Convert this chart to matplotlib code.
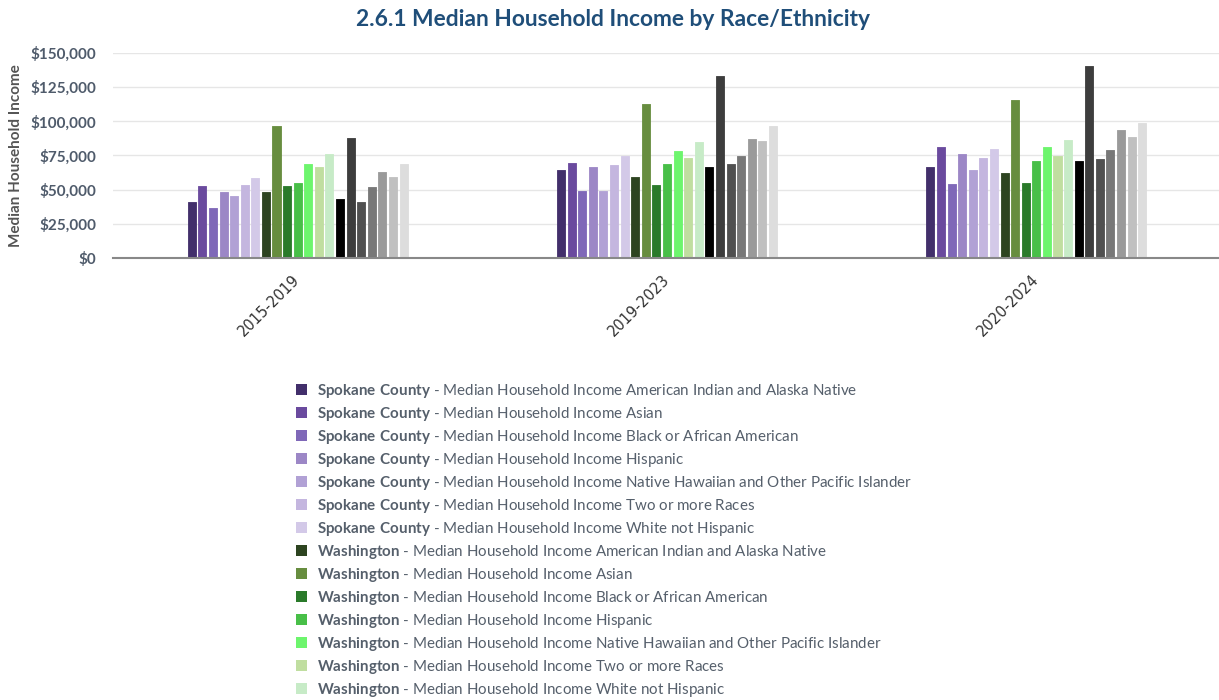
import matplotlib
matplotlib.use("Agg")
import matplotlib.pyplot as plt
from matplotlib.patches import Patch
from matplotlib.ticker import FuncFormatter, MultipleLocator
import numpy as np

plt.rcParams['font.family'] = ['Lato', 'DejaVu Sans']
plt.rcParams['mathtext.fontset'] = 'custom'
plt.rcParams['mathtext.rm'] = 'Lato'
plt.rcParams['mathtext.bf'] = 'Lato:bold'

periods = ["2015-2019", "2019-2023", "2020-2024"]
geographies = ["Spokane County", "Washington", "United States"]
races = ["American Indian and Alaska Native", "Asian", "Black or African American",
         "Hispanic", "Native Hawaiian and Other Pacific Islander",
         "Two or more Races", "White not Hispanic"]

# values per series (geography x race), one value per period
spokane_aian = [41100, 64600, 66800]
spokane_asian = [52400, 69200, 81500]
spokane_black = [36900, 49200, 53800]
spokane_hisp = [48400, 66800, 76300]
spokane_nhpi = [45300, 49200, 64300]
spokane_two = [53100, 67800, 73400]
spokane_white = [58200, 74900, 79700]

wa_aian = [48200, 59000, 61900]
wa_asian = [96900, 113000, 115900]
wa_black = [52400, 53100, 54600]
wa_hisp = [54800, 68500, 70900]
wa_nhpi = [68500, 78000, 81200]
wa_two = [66800, 73400, 74900]
wa_white = [75800, 84600, 86100]

us_aian = [43300, 66800, 70700]
us_asian = [87800, 133100, 140200]
us_black = [41100, 68500, 72700]
us_hisp = [51600, 74900, 79000]
us_nhpi = [62900, 87100, 93400]
us_two = [59000, 85400, 88600]
us_white = [68500, 96600, 99100]

series_values = [spokane_aian, spokane_asian, spokane_black, spokane_hisp, spokane_nhpi, spokane_two, spokane_white,
                 wa_aian, wa_asian, wa_black, wa_hisp, wa_nhpi, wa_two, wa_white,
                 us_aian, us_asian, us_black, us_hisp, us_nhpi, us_two, us_white]

colors = ["#422f6b", "#6a4a9e", "#7f68b8", "#9c87c6", "#b1a1d5", "#c4b6df", "#d3c9e8",
          "#2d4420", "#678d3f", "#2a7a2a", "#48bf48", "#6df56d", "#c0dea0", "#c7ebc7",
          "#000000", "#3d3d3d", "#505050", "#787878", "#9a9a9a", "#c0c0c0", "#dddddd"]

# legend entries visible in the reference (the rest fall below the image)
n_legend_visible = 14

W, H = 1219, 700
fig = plt.figure(figsize=(W / 100, H / 100), dpi=100)
ax = fig.add_axes([113 / W, 1 - 258 / H, (1221 - 113) / W, (258 - 53) / H])

x = np.arange(len(periods))
n = len(series_values)
slot = 0.02866
bw = 0.0217
for i, (vals, c) in enumerate(zip(series_values, colors)):
    ax.bar(x + (i - (n - 1) / 2) * slot, vals, width=bw, color=c,
           edgecolor=c, linewidth=0.6, joinstyle='round', zorder=3)

ax.set_xlim(-0.5, len(periods) - 0.5)
ax.set_ylim(0, 150000)
ax.yaxis.set_major_locator(MultipleLocator(25000))
ax.yaxis.set_major_formatter(FuncFormatter(lambda v, p: "${:,.0f}".format(v)))
ax.grid(axis='y', color='#e6e6e6', linewidth=1, zorder=0)
ax.set_axisbelow(True)
for s in ['left', 'right', 'top']:
    ax.spines[s].set_visible(False)
ax.spines['bottom'].set_color('#888888')
ax.spines['bottom'].set_linewidth(1.5)
ax.spines['bottom'].set_zorder(4)

ax.tick_params(axis='y', length=0, pad=12, labelsize=11, labelcolor='#4f5b6b')
for t in ax.get_yticklabels():
    t.set_fontweight('bold')
ax.set_xticks(x)
ax.set_xticklabels(periods, rotation=45, ha='right', va='center', rotation_mode='anchor',
                   fontsize=10.5, color='#333333', family=['DejaVu Sans'])
ax.tick_params(axis='x', length=0, pad=14)

ax.set_ylabel("Median Household Income", fontsize=11, fontweight='bold', color='#555555')
ax.yaxis.set_label_coords(-90 / (1221 - 113), 0.5)

fig.text(613 / W, 1 - 20 / H, "2.6.1 Median Household Income by Race/Ethnicity",
         ha='center', va='center', fontsize=16.4, fontweight='bold', color='#1f4e79')

handles = []
for gi, g in enumerate(geographies):
    gname = g.replace(" ", r"\ ")
    for ri, r in enumerate(races):
        idx = gi * len(races) + ri
        label = r"$\mathbf{" + gname + "}$ - Median Household Income " + r
        handles.append(Patch(facecolor=colors[idx], edgecolor='none', label=label))

leg = fig.legend(handles=handles[:n_legend_visible], loc='upper left',
                 bbox_to_anchor=(296 / W, 1 - 382 / H),
                 frameon=False, fontsize=10.9, handlelength=0.72, handleheight=0.72,
                 handletextpad=0.66, labelspacing=0.33, borderpad=0, borderaxespad=0)
for t in leg.get_texts():
    t.set_color('#555f6b')

fig.savefig("out.png", dpi=100)
